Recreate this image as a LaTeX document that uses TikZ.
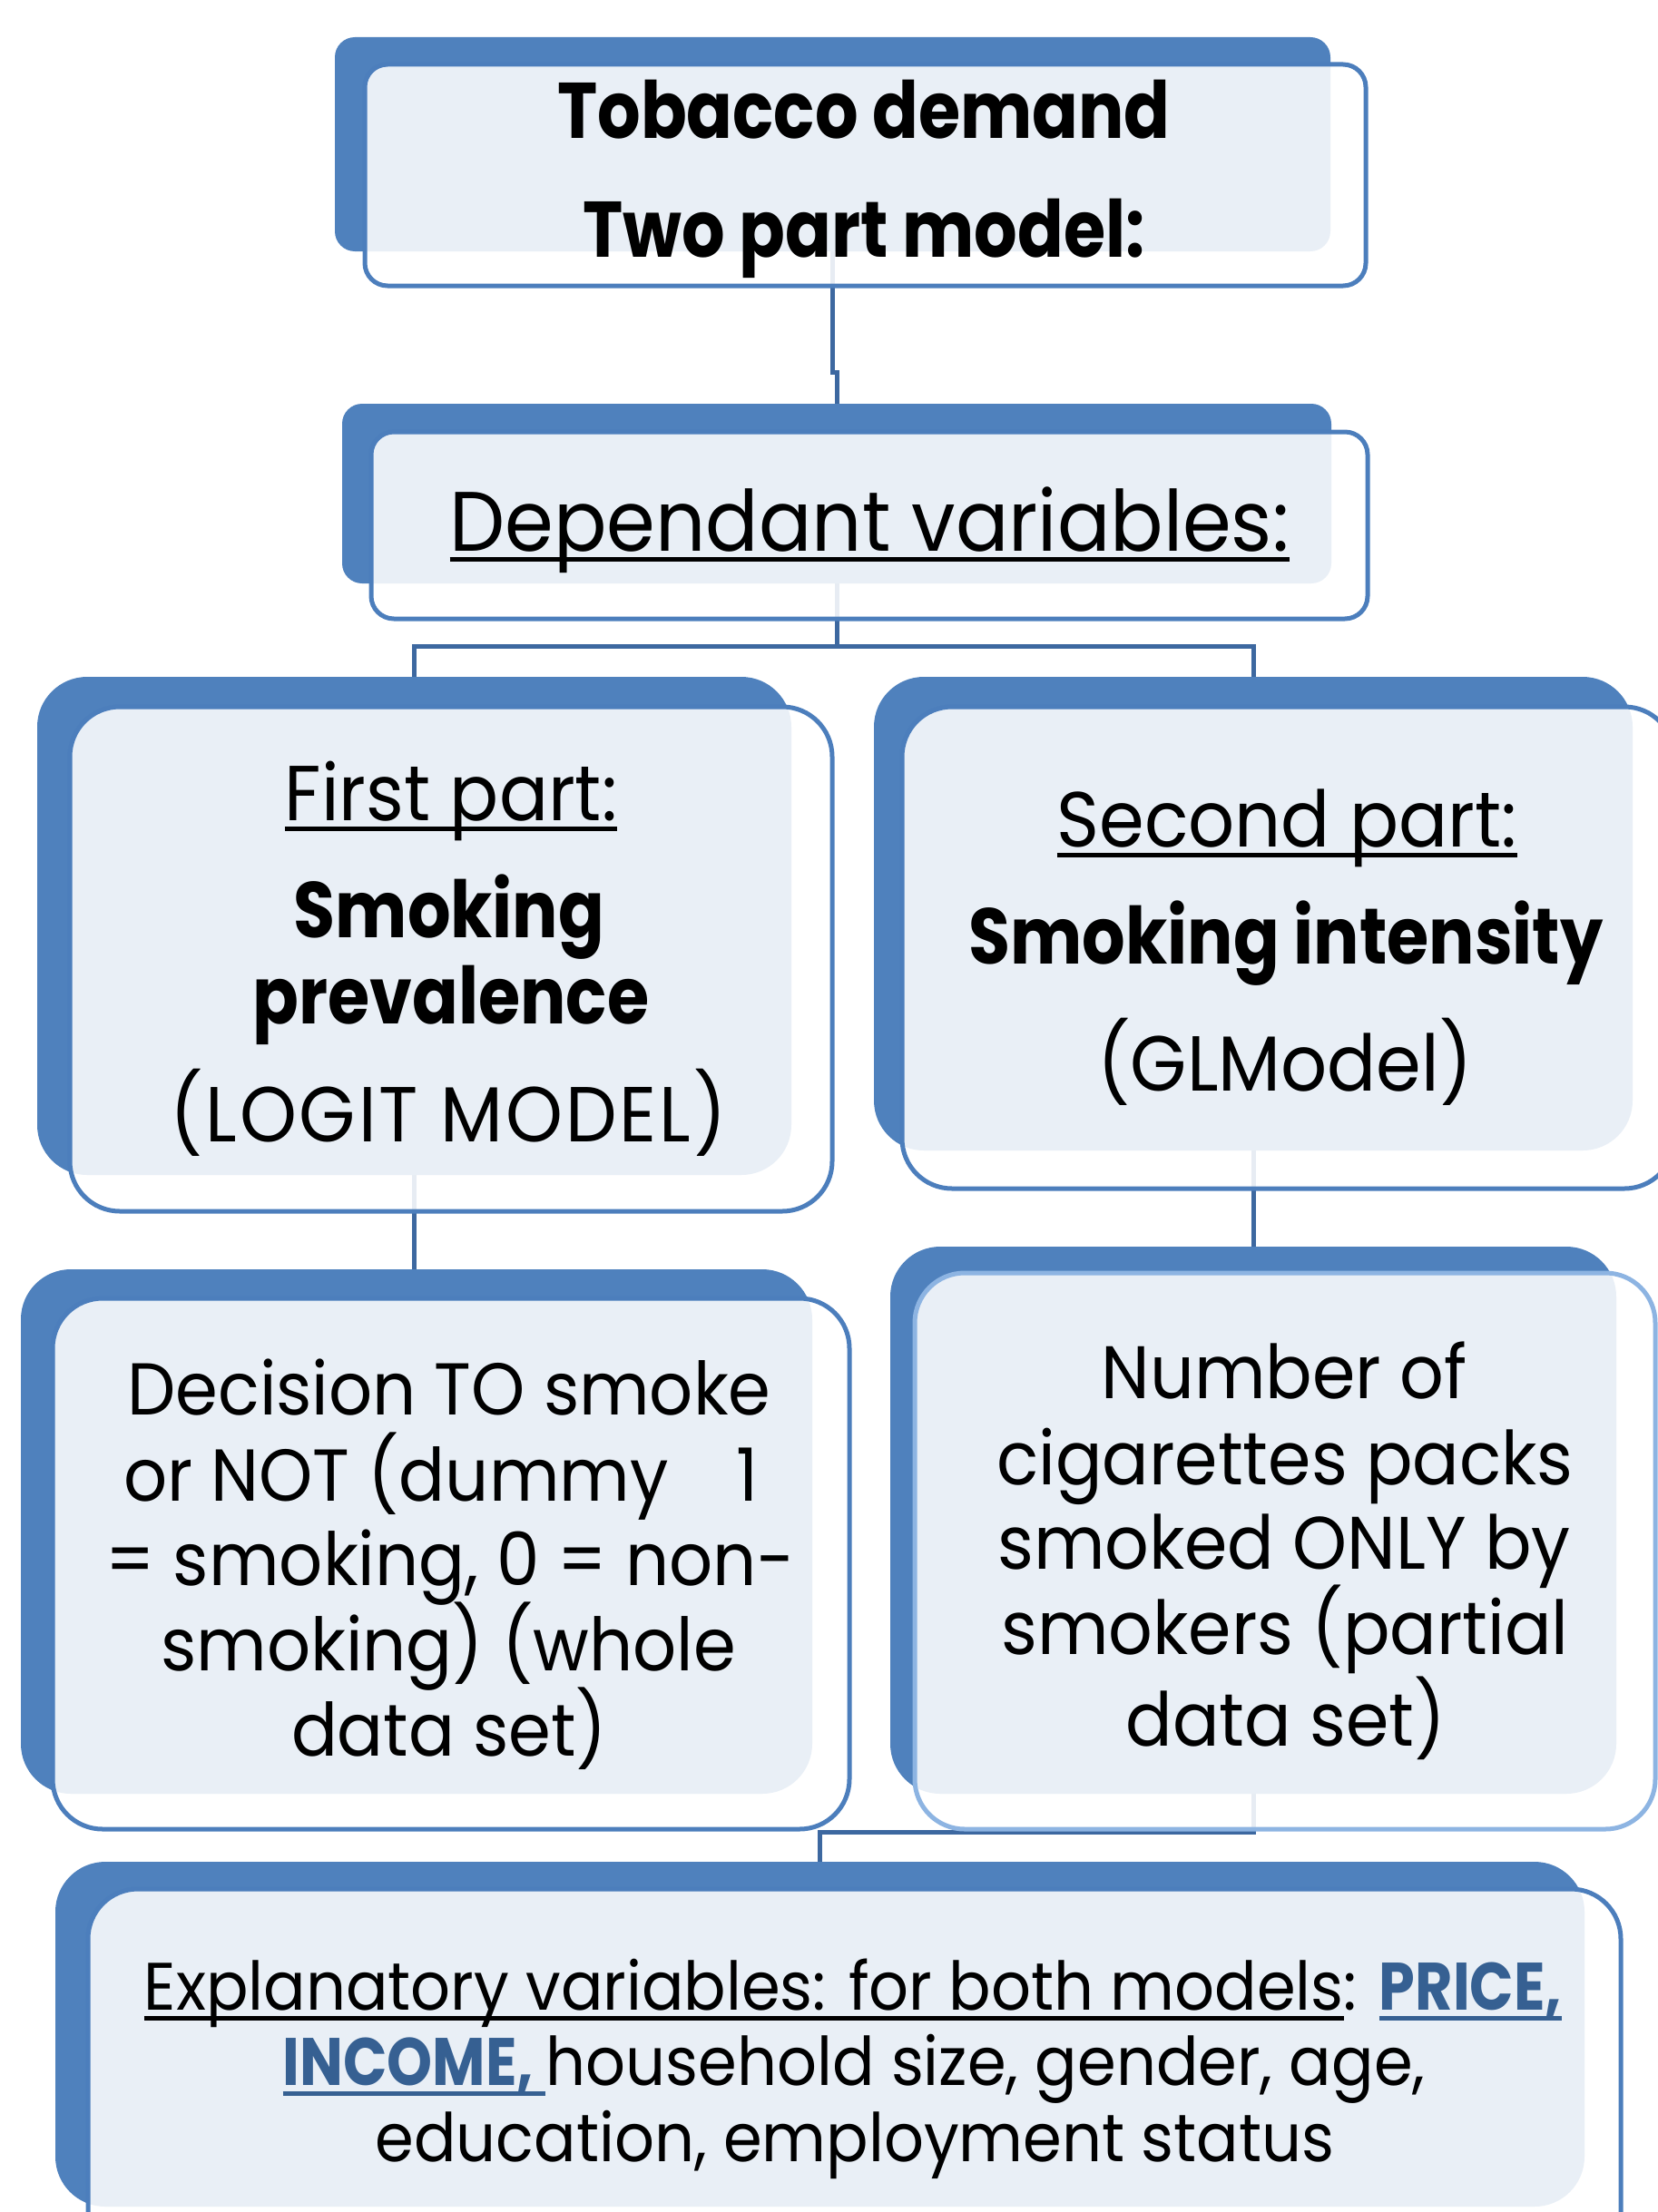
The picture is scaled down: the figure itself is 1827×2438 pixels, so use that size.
\documentclass[tikz,border=0pt]{standalone}
\usepackage{fontspec}
\setmainfont{Poppins}[UprightFeatures={FakeStretch=0.93},BoldFeatures={FakeStretch=0.86}]
\usetikzlibrary{fit}
\newcommand\myfs[1]{\fontsize{#1}{#1}\selectfont}
\newcommand\myul[1]{\setbox0\hbox{#1}\rlap{\rule[-12pt]{\wd0}{5pt}}\box0}
\definecolor{backblue}{RGB}{79,129,189}
\definecolor{frontline}{RGB}{76,126,188}
\definecolor{lightline}{RGB}{141,180,226}
\definecolor{conncol}{RGB}{61,104,160}
\definecolor{keyblue}{RGB}{54,96,146}
\pgfdeclarelayer{bg}
\pgfsetlayers{bg,main}
\tikzset{
  backbox/.style={fill=backblue, inner sep=0pt, rounded corners=55pt},
  frontbox/.style={draw=frontline, line width=5pt, fill=white, fill opacity=0.88, inner sep=0pt, rounded corners=55pt},
  txt/.style={anchor=base, inner sep=0pt, text=black},
  conn/.style={draw=conncol, line width=5pt}
}
\begin{document}
\begin{tikzpicture}[x=1pt,y=-1pt]
\useasboundingbox (0,0) rectangle (1827,2438);
\clip (0,0) rectangle (1827,2438);
% box 1
\node[backbox, rounded corners=22pt, fit={(369,41) (1466,277)}] (b1) {};
\node[frontbox, rounded corners=25pt, fit={(402,71) (1505,315)}] (f1) {};
\node[txt, font=\myfs{87}\bfseries] (t1a) at (952,153) {Tobacco demand};
\node[txt, font=\myfs{87}\bfseries] (t1b) at (952,283) {Two part model:};
% box 2
\node[backbox, rounded corners=22pt, fit={(377,445) (1467,643)}] (b2) {};
\node[frontbox, rounded corners=25pt, fit={(409,476) (1507,682)}] (f2) {};
\node[txt, font=\myfs{93}] (t2) at (958,607) {\myul{Dependant variables:}};
% box 3
\node[backbox, fit={(41,746) (872,1295)}] (b3) {};
\node[frontbox, fit={(77,779) (917,1335)}] (f3) {};
\node[txt, font=\myfs{86}] (t3a) at (497,904) {\myul{First part:}};
\node[txt, font=\myfs{87}\bfseries] (t3b) at (495,1033) {Smoking};
\node[txt, font=\myfs{87}\bfseries] (t3c) at (497,1128) {prevalence};
\node[txt, font=\myfs{86}\addfontfeature{LetterSpace=3.5}] (t3d) at (494,1258) {(LOGIT MODEL)};
% box 4
\node[backbox, fit={(963,746) (1799,1268)}] (b4) {};
\node[frontbox, fit={(994,779) (1845,1310)}] (f4) {};
\node[txt, font=\myfs{86}] (t4a) at (1418,933) {\myul{Second part:}};
\node[txt, font=\myfs{87}\bfseries] (t4b) at (1417,1062) {Smoking intensity};
\node[txt, font=\myfs{86}] (t4c) at (1416,1202) {(GLModel)};
% box 5
\node[backbox, fit={(23,1399) (895,1977)}] (b5) {};
\node[frontbox, fit={(58,1431) (936,2016)}] (f5) {};
\node[txt, font=\myfs{81}] (t5a) at (495,1559) {Decision TO smoke};
\node[txt, font=\myfs{81}] (t5b) at (486,1654) {or NOT (dummy\hspace{75pt}1};
\node[txt, font=\myfs{81}] (t5c) at (496,1747) {= smoking, 0 = non-};
\node[txt, font=\myfs{81}] (t5d) at (494,1841) {smoking) (whole};
\node[txt, font=\myfs{81}] (t5e) at (495,1935) {data set)};
% box 6
\node[backbox, fit={(981,1374) (1781,1977)}] (b6) {};
\node[frontbox, draw=lightline, fit={(1008,1403) (1824,2016)}] (f6) {};
\node[txt, font=\myfs{82}] (t6a) at (1415,1541) {Number of};
\node[txt, font=\myfs{82}] (t6b) at (1416,1636) {cigarettes packs};
\node[txt, font=\myfs{82}] (t6c) at (1415,1729) {smoked ONLY by};
\node[txt, font=\myfs{82}] (t6d) at (1416,1823) {smokers (partial};
\node[txt, font=\myfs{82}] (t6e) at (1417,1924) {data set)};
% box 7
\node[backbox, fit={(61,2052) (1746,2432)}] (b7) {};
\node[frontbox, fit={(97,2082) (1786,2520)}] (f7) {};
\node[txt, font=\myfs{74}] (t7a) at (940,2215) {\myul{Explanatory variables: for both models}: \textcolor{keyblue}{\bfseries\myul{PRICE,}}};
\node[txt, font=\myfs{74}] (t7b) at (941,2298) {\textcolor{keyblue}{\bfseries\myul{INCOME,\ }}household size, gender, age,};
\node[txt, font=\myfs{74}] (t7c) at (942,2382) {education, employment status};
% connectors
\coordinate (j2) at (922,712);
\begin{pgfonlayer}{bg}
\draw[conn] (b1.south) -- (b1.south |- 0,410) -- (b2.north |- 0,410) -- (b2.north);
\draw[conn] (b2.south) -- (j2);
\draw[conn] (b3.north) |- (j2) -| (b4.north);
\draw[conn] (b3.south) -- (b3.south |- b5.north);
\draw[conn] (b4.south) -- (b4.south |- b6.north);
\draw[conn] (b6.south) |- (b7.north |- 0,2019) -- (b7.north);
\end{pgfonlayer}
\end{tikzpicture}
\end{document}
